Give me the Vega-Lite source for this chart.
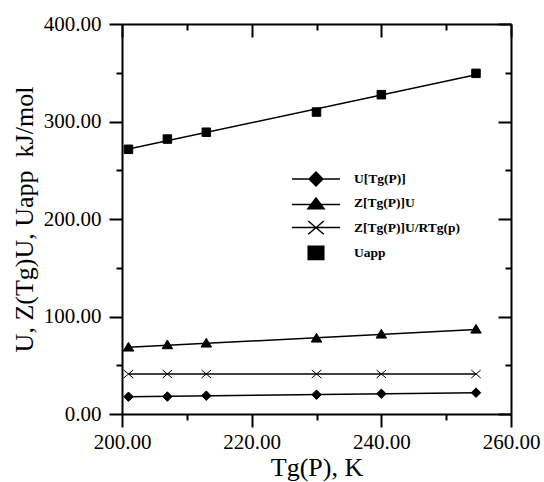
{
  "$schema": "https://vega.github.io/schema/vega-lite/v6.json",
  "width": 389,
  "height": 390,
  "autosize": "none",
  "padding": {"left": 122, "top": 24, "right": 33, "bottom": 68},
  "background": "white",
  "config": {
    "view": {"stroke": null},
    "axis": {
      "grid": false,
      "domainColor": "black",
      "domainWidth": 2,
      "tickColor": "black",
      "tickWidth": 2,
      "labelColor": "black",
      "labelFont": "Liberation Serif",
      "labelFontSize": 21,
      "labelFlush": false,
      "labelOverlap": false,
      "titleColor": "black",
      "titleFont": "Liberation Serif",
      "titleFontSize": 26,
      "titleFontWeight": "normal"
    }
  },
  "data": {
    "values": [
      {"x": 201, "y": 17.7, "series": "U[Tg(P)]"},
      {"x": 207, "y": 17.9, "series": "U[Tg(P)]"},
      {"x": 213, "y": 18.8, "series": "U[Tg(P)]"},
      {"x": 230, "y": 19.8, "series": "U[Tg(P)]"},
      {"x": 240, "y": 20.8, "series": "U[Tg(P)]"},
      {"x": 254.6, "y": 21.9, "series": "U[Tg(P)]"},
      {"x": 201, "y": 68.4, "series": "Z[Tg(P)]U"},
      {"x": 207, "y": 70.8, "series": "Z[Tg(P)]U"},
      {"x": 213, "y": 72.5, "series": "Z[Tg(P)]U"},
      {"x": 230, "y": 77.6, "series": "Z[Tg(P)]U"},
      {"x": 240, "y": 81.7, "series": "Z[Tg(P)]U"},
      {"x": 254.6, "y": 86.8, "series": "Z[Tg(P)]U"},
      {"x": 201, "y": 41.0, "series": "Z[Tg(P)]U/RTg(p)"},
      {"x": 207, "y": 41.0, "series": "Z[Tg(P)]U/RTg(p)"},
      {"x": 213, "y": 41.0, "series": "Z[Tg(P)]U/RTg(p)"},
      {"x": 230, "y": 41.0, "series": "Z[Tg(P)]U/RTg(p)"},
      {"x": 240, "y": 41.0, "series": "Z[Tg(P)]U/RTg(p)"},
      {"x": 254.6, "y": 41.0, "series": "Z[Tg(P)]U/RTg(p)"},
      {"x": 201, "y": 271.5, "series": "Uapp"},
      {"x": 207, "y": 282.0, "series": "Uapp"},
      {"x": 213, "y": 289.0, "series": "Uapp"},
      {"x": 230, "y": 309.7, "series": "Uapp"},
      {"x": 240, "y": 327.5, "series": "Uapp"},
      {"x": 254.6, "y": 349.4, "series": "Uapp"}
    ]
  },
  "resolve": {
    "scale": {"shape": "independent"},
    "axis": {"x": "independent", "y": "independent"}
  },
  "layer": [
    {
      "transform": [
        {"regression": "y", "on": "x", "groupby": ["series"], "extent": [201, 254.6]}
      ],
      "mark": {"type": "line", "stroke": "black", "strokeWidth": 1.5},
      "encoding": {
        "x": {
          "field": "x", "type": "quantitative",
          "scale": {"domain": [200, 260], "nice": false, "zero": false},
          "axis": {
            "orient": "bottom", "values": [200, 220, 240, 260], "format": ".2f",
            "tickSize": 13, "labelPadding": 4, "title": "Tg(P), K", "titlePadding": 2
          }
        },
        "y": {
          "field": "y", "type": "quantitative",
          "scale": {"domain": [0, 400], "nice": false},
          "axis": {
            "orient": "left", "values": [0, 100, 200, 300, 400], "format": ".2f",
            "tickSize": 13, "labelPadding": 8,
            "title": "U, Z(Tg)U, Uapp\u00a0 kJ/mol", "titlePadding": 6
          }
        },
        "detail": {"field": "series"}
      }
    },
    {
      "mark": {"type": "point", "filled": true, "fill": "black", "stroke": "black", "strokeWidth": 1, "size": 100, "opacity": 1},
      "encoding": {
        "x": {
          "field": "x", "type": "quantitative",
          "axis": {"orient": "top", "values": [200, 220, 240, 260], "tickSize": -13, "labels": false, "title": null}
        },
        "y": {
          "field": "y", "type": "quantitative",
          "axis": {"orient": "right", "values": [0, 100, 200, 300, 400], "tickSize": -13, "labels": false, "title": null}
        },
        "shape": {
          "field": "series", "type": "nominal",
          "scale": {
            "domain": ["U[Tg(P)]", "Z[Tg(P)]U", "Z[Tg(P)]U/RTg(p)", "Uapp"],
            "range": [
              "M-0.95,0L0,-0.95L0.95,0L0,0.95Z",
              "M-1.05,0.75L0,-1L1.05,0.75Z",
              "M-0.95,-0.8L0.95,0.8M-0.95,0.8L0.95,-0.8",
              "M-0.85,-0.85H0.85V0.85H-0.85Z"
            ]
          },
          "legend": null
        }
      }
    },
    {
      "mark": {"type": "point", "filled": true, "fill": "black", "stroke": "black", "strokeWidth": 1.5, "size": 144, "opacity": 0},
      "encoding": {
        "x": {
          "field": "x", "type": "quantitative",
          "axis": {"orient": "bottom", "values": [210, 230, 250], "tickSize": 6, "labels": false, "domain": false, "title": null}
        },
        "y": {
          "field": "y", "type": "quantitative",
          "axis": {"orient": "left", "values": [50, 150, 250, 350], "tickSize": 6, "labels": false, "domain": false, "title": null}
        },
        "shape": {
          "field": "series", "type": "nominal",
          "scale": {
            "domain": ["U[Tg(P)]", "Z[Tg(P)]U", "Z[Tg(P)]U/RTg(p)", "Uapp"],
            "range": [
              "M-4,0L4,0M-1.15,0L0,-1.15L1.15,0L0,1.15Z",
              "M-4,0.2L4,0.2M-1.35,0.9L0,-0.9L1.35,0.9Z",
              "M-4,0L4,0M-1.3,-1.1L1.3,1.1M-1.3,1.1L1.3,-1.1",
              "M-1.3,-1.1L1.3,-1.1L1.3,1.1L-1.3,1.1Z"
            ]
          },
          "legend": {
            "title": null,
            "orient": "none",
            "legendX": 187,
            "legendY": 148,
            "symbolSize": 144,
            "symbolOpacity": 1,
            "labelFont": "Liberation Serif",
            "labelFontWeight": "bold",
            "labelFontSize": 13.5,
            "labelColor": "black",
            "labelOffset": 31,
            "rowPadding": 5.3,
            "padding": 0,
            "encode": {
              "symbols": {
                "fill": {"value": "black"},
                "stroke": {"value": "black"},
                "strokeWidth": {"value": 1.5},
                "strokeOpacity": {"value": 1},
                "fillOpacity": {"value": 1},
                "opacity": {"value": 1}
              }
            }
          }
        }
      }
    },
    {
      "mark": {"type": "point", "size": 1, "opacity": 0},
      "encoding": {
        "x": {
          "field": "x", "type": "quantitative",
          "axis": {"orient": "top", "values": [210, 230, 250], "tickSize": -6, "labels": false, "domain": false, "title": null}
        },
        "y": {
          "field": "y", "type": "quantitative",
          "axis": {"orient": "right", "values": [50, 150, 250, 350], "tickSize": -6, "labels": false, "domain": false, "title": null}
        }
      }
    }
  ]
}
